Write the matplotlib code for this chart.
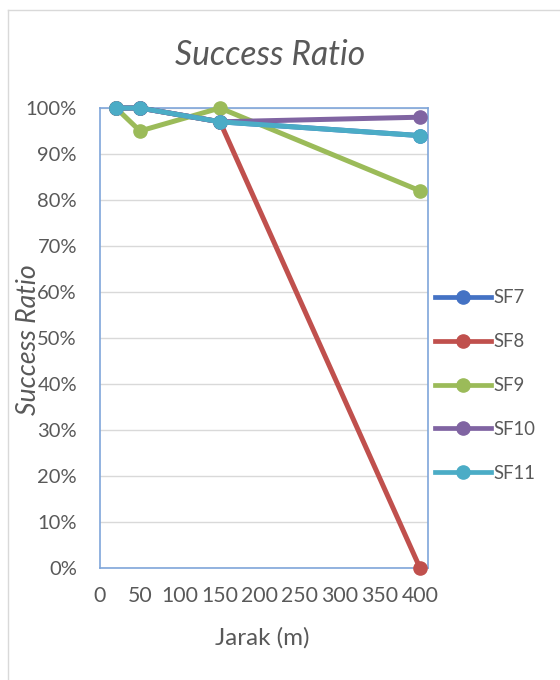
import matplotlib
matplotlib.use("Agg")
import matplotlib.pyplot as plt
from matplotlib.ticker import PercentFormatter
from matplotlib.lines import Line2D

plt.rcParams['font.family'] = ['Lato', 'DejaVu Sans']

jarak = [20, 50, 150, 400]
series_names = ["SF7", "SF8", "SF9", "SF10", "SF11"]
sf7 = [100, 100, 97, 94]
sf8 = [100, 100, 97, 0]
sf9 = [100, 95, 100, 82]
sf10 = [100, 100, 97, 98]
sf11 = [100, 100, 97, 94]
colors = ["#4472C4", "#C0504D", "#9BBB59", "#8064A2", "#4BACC6"]
xticks = [0, 50, 100, 150, 200, 250, 300, 350, 400]
yticks = [0, 10, 20, 30, 40, 50, 60, 70, 80, 90, 100]

W, H = 560, 680
fig = plt.figure(figsize=(W / 100, H / 100), dpi=100)
renderer = fig.canvas.get_renderer()


def fit_size(s, target_px, **kw):
    t = fig.text(0, 0, s, fontsize=10, **kw)
    w = t.get_window_extent(renderer).width
    t.remove()
    return 10 * target_px / w


GRAY = '#595959'
ax = fig.add_axes([100 / W, 1 - 568 / H, (428 - 100) / W, (568 - 108) / H])

for name, vals, c in zip(series_names, [sf7, sf8, sf9, sf10, sf11], colors):
    ax.plot(jarak, [v / 100 for v in vals], color=c, lw=3.6, marker='o', ms=9.5,
            label=name, clip_on=False, zorder=3)

ax.set_xlim(0, 410)
ax.set_ylim(0, 1.0)
ax.set_xticks(xticks)
ax.set_yticks([v / 100 for v in yticks])
ax.yaxis.set_major_formatter(PercentFormatter(1.0, decimals=0))
ax.grid(axis='y', color='#D9D9D9', lw=1)
ax.set_axisbelow(True)
for s in ax.spines.values():
    s.set_color('#7FA6DA')
    s.set_linewidth(1.2)

ytick_fs = fit_size("100%", 51)
xtick_fs = fit_size("100", 37)
ax.tick_params(length=0, colors=GRAY)
ax.tick_params(axis='y', labelsize=ytick_fs, pad=23 * 0.72)
ax.tick_params(axis='x', labelsize=xtick_fs, pad=13)

title_fs = fit_size("Success Ratio", 190, style='italic')
fig.text(270 / W, 1 - 55 / H, "Success Ratio", ha='center', va='center',
         fontsize=title_fs, style='italic', color=GRAY)
xl_fs = fit_size("Jarak (m)", 94)
fig.text(262 / W, 1 - 638 / H, "Jarak (m)", ha='center', va='center',
         fontsize=xl_fs, color=GRAY)
yl_fs = fit_size("Success Ratio", 150, style='italic')
fig.text(29 / W, 1 - 340 / H, "Success Ratio", ha='center', va='center',
         fontsize=yl_fs, style='italic', color=GRAY, rotation=90)

leg_fs = fit_size("SF7", 31)
handles = [Line2D([], [], color=c, lw=3.4, marker='o', ms=9.5) for c in colors]
leg = fig.legend(handles, series_names, loc='upper left',
                 bbox_to_anchor=(428 / W, 1 - 282 / H), frameon=False,
                 fontsize=leg_fs, labelspacing=1.45, handlelength=3.0,
                 handletextpad=0.15, borderaxespad=0)
for t in leg.get_texts():
    t.set_color(GRAY)

fig.add_artist(Line2D([8 / W, 8 / W], [0, 1 - 10 / H], color='#D9D9D9', lw=1,
                      transform=fig.transFigure))
fig.add_artist(Line2D([8 / W, 1], [1 - 10 / H, 1 - 10 / H], color='#D9D9D9', lw=1,
                      transform=fig.transFigure))

fig.savefig("out.png", dpi=100)
